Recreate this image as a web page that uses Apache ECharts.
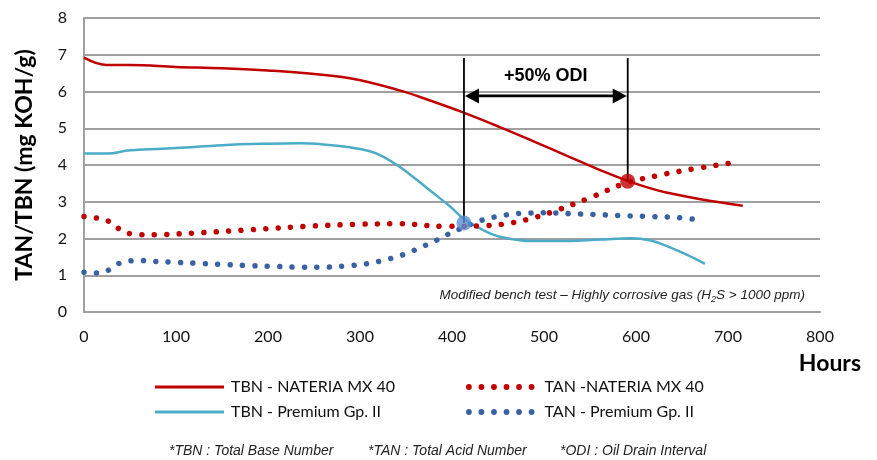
<!DOCTYPE html>
<html>
<head>
<meta charset="utf-8">
<script src="https://cdn.jsdelivr.net/npm/echarts@6/dist/echarts.min.js"></script>
<style>
html,body{margin:0;padding:0;background:#fff;}
#chart{width:877px;height:460px;}
</style>
</head>
<body>
<div id="chart"></div>
<script>
// ---- data (hours, value) ----
const tbnNateria = [[0,6.92],[25,6.72],[50,6.72],[100,6.67],[150,6.63],[200,6.57],[235,6.51],[289,6.36],[343,6.03],[380,5.72],[412,5.43],[452,5.03],[488,4.65],[525,4.25],[561,3.86],[591,3.57],[615,3.37],[633,3.25],[670,3.07],[716,2.89]];
const tbnPremium = [[0,4.31],[25,4.31],[50,4.4],[100,4.46],[150,4.54],[200,4.58],[235,4.59],[260,4.56],[289,4.48],[310,4.38],[325,4.23],[343,3.95],[362,3.59],[380,3.23],[398,2.87],[412,2.55],[434,2.23],[452,2.05],[488,1.93],[524,1.93],[561,1.97],[595,2.01],[615,1.95],[633,1.8],[655,1.56],[675,1.31]];
const tanNateria = [[0,2.6],[13,2.56],[25,2.49],[37,2.28],[50,2.13],[62,2.1],[88,2.11],[128,2.16],[182,2.24],[248,2.34],[302,2.39],[343,2.4],[394,2.33],[436,2.35],[461,2.41],[488,2.56],[513,2.76],[551,3.12],[588,3.5],[627,3.73],[652,3.85],[705,4.06]];
const tanPremium = [[0,1.08],[13,1.06],[25,1.12],[37,1.31],[50,1.39],[62,1.4],[75,1.38],[102,1.35],[128,1.32],[155,1.29],[182,1.26],[208,1.24],[235,1.22],[262,1.22],[288,1.26],[302,1.29],[315,1.35],[328,1.42],[342,1.52],[355,1.64],[368,1.78],[380,1.91],[392,2.07],[404,2.21],[428,2.46],[440,2.55],[454,2.62],[467,2.67],[480,2.69],[506,2.7],[533,2.67],[560,2.65],[586,2.62],[613,2.6],[640,2.58],[654,2.55],[667,2.51]];
const crossPoints = [[413,2.42],[591,3.56]];
// annotation: [startHour, endHour, startY, endY, topY, arrowY, labelY]
const odiAnnotation = [[413, 591, 2.42, 3.56, 6.91, 5.88, 6.42]];
const seriesNames = ['TBN - NATERIA MX 40','TAN -NATERIA MX 40','TBN - Premium Gp. II','TAN - Premium Gp. II'];
const xTicks = {min:0, max:800, interval:100};
const yTicks = {min:0, max:8, interval:1};

const RED = '#C00000', CYAN = '#4BACC6', BLUE = '#3A62A3', LBLUE = '#5B8ED6';
const dots = [0.01, 12.4];

// legend icon of six dots
function dotIcon(){
  const r = 2.9; let p = 'path://';
  for (let i = 0; i < 6; i++) {
    const cx = 3 + 12.5 * i;
    p += 'M' + (cx - r) + ',3a' + r + ',' + r + ' 0 1,0 ' + (2*r) + ',0a' + r + ',' + r + ' 0 1,0 ' + (-2*r) + ',0Z';
  }
  return p;
}

const chart = echarts.init(document.getElementById('chart'), null, {renderer:'canvas'});
const legendText = {fontFamily:'Lato', fontSize:16, color:'#111', lineHeight:20};
const lineCommon = {type:'line', smooth:0.4, symbol:'none', z:3};
chart.setOption({
  animation:false,
  backgroundColor:'#fff',
  grid:{left:84, right:57, top:18, bottom:148, containLabel:false},
  xAxis:{type:'value', min:xTicks.min, max:xTicks.max, interval:xTicks.interval,
    axisLine:{show:true, lineStyle:{color:'#A0A0A0', width:2}},
    axisTick:{show:false}, splitLine:{show:false},
    axisLabel:{fontFamily:'Lato', fontSize:16, color:'#111', margin:17}},
  yAxis:{type:'value', min:yTicks.min, max:yTicks.max, interval:yTicks.interval,
    name:'TAN/TBN (mg KOH/g)', nameLocation:'middle', nameGap:48,
    nameTextStyle:{fontFamily:'Lato', fontWeight:'bold', fontSize:23, color:'#000'},
    axisLine:{show:true, lineStyle:{color:'#A0A0A0', width:2}},
    axisTick:{show:false},
    splitLine:{show:true, lineStyle:{color:'#A0A0A0', width:2}},
    axisLabel:{fontFamily:'Lato', fontSize:16, color:'#111', margin:17}},
  legend:[
    {data:[seriesNames[0], seriesNames[2]], orient:'vertical', left:155, top:377, padding:0,
     icon:'rect', itemWidth:69, itemHeight:3, itemGap:5, textStyle:Object.assign({padding:[0,0,0,2]}, legendText)},
    {data:[seriesNames[1], seriesNames[3]], orient:'vertical', left:466, top:377, padding:0,
     icon:dotIcon(), itemWidth:68.5, itemHeight:6, itemGap:5, textStyle:Object.assign({padding:[0,0,0,5]}, legendText)}
  ],
  graphic:[
    {type:'text', right:16, top:352, style:{text:'Hours', font:'bold 23px Lato', fill:'#000'}},
    {type:'text', right:72, top:288, style:{
      text:'{i|Modified bench test – Highly corrosive gas (H}{s|2}{i|S > 1000 ppm)}',
      rich:{i:{fontFamily:'Liberation Sans', fontStyle:'italic', fontSize:13.5, fill:'#222', lineHeight:18, verticalAlign:'middle'},
            s:{fontFamily:'Liberation Sans', fontStyle:'italic', fontSize:9, fill:'#222', lineHeight:18, verticalAlign:'bottom', padding:[6,0,0,0]}}}},
    {type:'text', left:169, top:444, style:{text:'*TBN : Total Base Number', font:'italic 14px "Liberation Sans"', fill:'#222'}},
    {type:'text', left:368, top:444, style:{text:'*TAN : Total Acid Number', font:'italic 14px "Liberation Sans"', fill:'#222'}},
    {type:'text', left:560, top:444, style:{text:'*ODI : Oil Drain Interval', font:'italic 14px "Liberation Sans"', fill:'#222'}}
  ],
  series:[
    Object.assign({name:seriesNames[0], data:tbnNateria, lineStyle:{color:RED, width:2.5}, itemStyle:{color:RED}}, lineCommon),
    Object.assign({name:seriesNames[2], data:tbnPremium, lineStyle:{color:CYAN, width:2.5}, itemStyle:{color:CYAN}}, lineCommon),
    Object.assign({name:seriesNames[1], data:tanNateria, lineStyle:{color:RED, width:5.5, type:dots, cap:'round'}, itemStyle:{color:RED}}, lineCommon),
    Object.assign({name:seriesNames[3], data:tanPremium, lineStyle:{color:BLUE, width:5.5, type:dots, cap:'round'}, itemStyle:{color:BLUE}}, lineCommon),
    {type:'custom', data:odiAnnotation, z:5, clip:false, silent:true,
      encode:{x:[0,1], y:[2,3,4,5,6]},
      renderItem:function(params, api){
        const x1=api.value(0), x2=api.value(1);
        const pA=api.coord([x1, api.value(2)]), pB=api.coord([x2, api.value(3)]);
        const tA=api.coord([x1, api.value(4)]), tB=api.coord([x2, api.value(4)]);
        const aL=api.coord([x1, api.value(5)]), aR=api.coord([x2, api.value(5)]);
        const lab=api.coord([(x1+x2)/2, api.value(6)]);
        const L=15, H=7.5;
        return {type:'group', children:[
          {type:'line', shape:{x1:tA[0],y1:tA[1],x2:pA[0],y2:pA[1]}, style:{stroke:'#000', lineWidth:1.8}},
          {type:'line', shape:{x1:tB[0],y1:tB[1],x2:pB[0],y2:pB[1]}, style:{stroke:'#000', lineWidth:1.8}},
          {type:'line', shape:{x1:aL[0]+L-1,y1:aL[1],x2:aR[0]-L+1,y2:aR[1]}, style:{stroke:'#000', lineWidth:2.8}},
          {type:'polygon', shape:{points:[[aL[0]+1,aL[1]],[aL[0]+L,aL[1]-H],[aL[0]+L,aL[1]+H]]}, style:{fill:'#000'}},
          {type:'polygon', shape:{points:[[aR[0]-1,aR[1]],[aR[0]-L,aR[1]-H],[aR[0]-L,aR[1]+H]]}, style:{fill:'#000'}},
          {type:'text', x:lab[0], y:lab[1], style:{text:'+50% ODI', font:'bold 18px "Liberation Sans"', fill:'#000', align:'center', verticalAlign:'middle'}}
        ]};
      }},
    {type:'scatter', data:crossPoints, symbolSize:15, z:6, silent:true,
      itemStyle:{color:function(p){return p.dataIndex===0?LBLUE:RED;}}}
  ]
});
</script>
</body>
</html>
